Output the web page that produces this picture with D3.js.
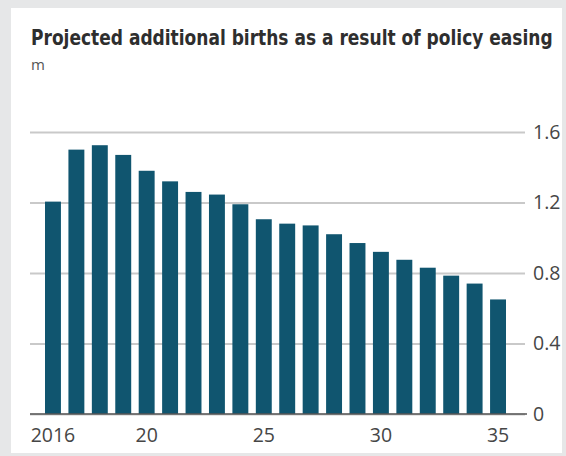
<!DOCTYPE html>
<html>
<head>
<meta charset="utf-8">
<script src="https://cdn.jsdelivr.net/npm/d3@7"></script>
<style>
  html, body { margin: 0; padding: 0; background: #e6e7e8; }
  svg { display: block; }
</style>
</head>
<body>
<svg id="chart" width="566" height="456"></svg>
<script>
// Projected additional births (millions) after the easing of the one-child policy
const years = d3.range(2016, 2036);
const births = [1.205, 1.50, 1.525, 1.47, 1.38, 1.32, 1.26, 1.245, 1.19, 1.105,
                1.08, 1.07, 1.02, 0.97, 0.92, 0.875, 0.83, 0.785, 0.74, 0.65];
const yTicks = [0, 0.4, 0.8, 1.2, 1.6];
const xTickYears = [2016, 2020, 2025, 2030, 2035];
const xTickLabels = ["2016", "20", "25", "30", "35"];

const svg = d3.select("#chart");

// white panel inside the grey frame
svg.append("rect")
  .attr("x", 11).attr("y", 8)
  .attr("width", 551).attr("height", 445)
  .attr("fill", "#ffffff");

// title, squeezed horizontally to a condensed width
const title = svg.append("text")
  .attr("x", 0).attr("y", 0)
  .style("font-family", "'DejaVu Sans Condensed', 'DejaVu Sans', sans-serif")
  .style("font-weight", "bold")
  .style("font-size", "21px")
  .attr("fill", "#2e2e2e")
  .text("Projected additional births as a result of policy easing");
const titleWidth = 522;
const natural = title.node().getComputedTextLength();
title.attr("transform", `translate(31,45) scale(${titleWidth / natural},1)`);

svg.append("text")
  .attr("x", 31).attr("y", 70)
  .style("font-family", "'Open Sans', sans-serif")
  .style("font-size", "15px")
  .attr("fill", "#555")
  .text("m");

const x = d3.scaleBand()
  .domain(years)
  .range([45, 506])
  .paddingInner(0.32)
  .paddingOuter(0);

const y = d3.scaleLinear()
  .domain([0, 1.6])
  .range([414, 132]);

// horizontal gridlines with labels on the right
const yAxis = d3.axisRight(y)
  .tickValues(yTicks)
  .tickSize(-495)
  .tickPadding(8)
  .tickFormat(d => d === 0 ? "0" : d3.format(".1f")(d));

const gy = svg.append("g")
  .attr("transform", "translate(525,0)")
  .call(yAxis);
gy.select(".domain").remove();
gy.selectAll(".tick line")
  .attr("stroke", "#c9c9c9")
  .attr("stroke-width", 2);
gy.selectAll(".tick text")
  .style("font-family", "'Open Sans', sans-serif")
  .style("font-size", "19.5px")
  .attr("fill", "#464646");

// bars
svg.append("g")
  .selectAll("rect")
  .data(years)
  .join("rect")
  .attr("x", d => x(d))
  .attr("width", x.bandwidth())
  .attr("y", (d, i) => y(births[i]))
  .attr("height", (d, i) => y(0) - y(births[i]))
  .attr("fill", "#10556f");

// baseline
svg.append("line")
  .attr("x1", 30).attr("x2", 527)
  .attr("y1", y(0)).attr("y2", y(0))
  .attr("stroke", "#555")
  .attr("stroke-width", 1.5);

// year labels
const xAxis = d3.axisBottom(x)
  .tickValues(xTickYears)
  .tickSize(0)
  .tickPadding(14)
  .tickFormat((d) => xTickLabels[xTickYears.indexOf(d)]);

const gx = svg.append("g")
  .attr("transform", `translate(0,${y(0)})`)
  .call(xAxis);
gx.select(".domain").remove();
gx.selectAll(".tick text")
  .style("font-family", "'Open Sans', sans-serif")
  .style("font-size", "19.5px")
  .attr("fill", "#464646");
</script>
</body>
</html>
